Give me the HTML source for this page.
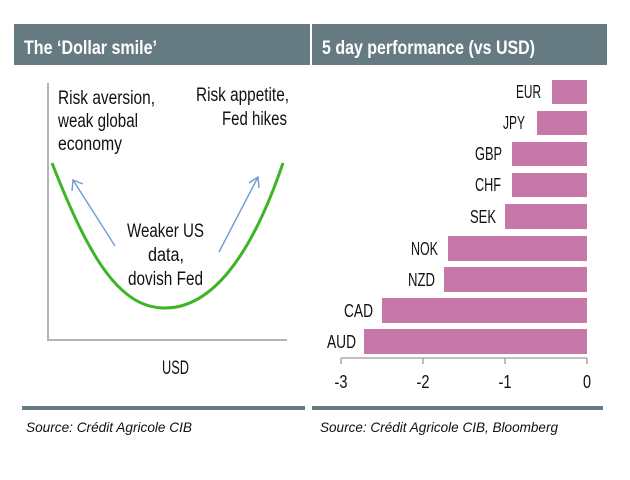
<!DOCTYPE html>
<html><head><meta charset="utf-8"><style>
html,body{margin:0;padding:0;background:#fff;}
svg{display:block;}
text{font-family:"Liberation Sans",sans-serif;}
</style></head><body>
<svg width="630" height="480" viewBox="0 0 630 480" xmlns="http://www.w3.org/2000/svg">
<rect x="0" y="0" width="630" height="480" fill="#fff"/>
<!-- headers -->
<rect x="14" y="24" width="296" height="41" fill="#657b81"/>
<rect x="312" y="24" width="295" height="41" fill="#657b81"/>
<text x="24" y="54" font-size="19" font-weight="bold" fill="#fff" textLength="133" lengthAdjust="spacingAndGlyphs">The ‘Dollar smile’</text>
<text x="322" y="54" font-size="19" font-weight="bold" fill="#fff" textLength="213" lengthAdjust="spacingAndGlyphs">5 day performance (vs USD)</text>

<!-- left chart axes -->
<line x1="48" y1="83" x2="48" y2="340" stroke="#b4b4b4" stroke-width="2"/>
<line x1="47" y1="340" x2="287" y2="340" stroke="#b4b4b4" stroke-width="2"/>

<!-- curve -->
<path d="M52,163 C90,260 120,308 165,308 C210,308 250,260 283,163" fill="none" stroke="#3db526" stroke-width="3"/>

<!-- arrows -->
<g stroke="#6f9bd3" stroke-width="1.4" fill="none">
<line x1="115" y1="246" x2="73" y2="180"/>
<polyline points="72,191 73,180 83,184"/>
<line x1="219" y1="252" x2="258" y2="177"/>
<polyline points="249,183 258,177 259,188"/>
</g>

<!-- left texts -->
<g font-size="19" fill="#111">
<text x="58" y="104" textLength="97" lengthAdjust="spacingAndGlyphs">Risk aversion,</text>
<text x="58" y="127" textLength="80" lengthAdjust="spacingAndGlyphs">weak global</text>
<text x="58" y="150" textLength="64" lengthAdjust="spacingAndGlyphs">economy</text>
<text x="196" y="101" textLength="93" lengthAdjust="spacingAndGlyphs">Risk appetite,</text>
<text x="222" y="125" textLength="65" lengthAdjust="spacingAndGlyphs">Fed hikes</text>
<text x="127" y="237" textLength="77" lengthAdjust="spacingAndGlyphs">Weaker US</text>
<text x="148" y="261" textLength="36" lengthAdjust="spacingAndGlyphs">data,</text>
<text x="128" y="285" textLength="75" lengthAdjust="spacingAndGlyphs">dovish Fed</text>
<text x="162" y="374" textLength="27" lengthAdjust="spacingAndGlyphs">USD</text>
</g>

<!-- bars -->
<g fill="#c679a9">
<rect x="552" y="80" width="35" height="24"/>
<rect x="537" y="111" width="50" height="24"/>
<rect x="512" y="142" width="75" height="24"/>
<rect x="512" y="173" width="75" height="24"/>
<rect x="505" y="204" width="82" height="25"/>
<rect x="448" y="236" width="139" height="25"/>
<rect x="444" y="267" width="143" height="25"/>
<rect x="382" y="298" width="205" height="25"/>
<rect x="364" y="329" width="223" height="25"/>
</g>
<g font-size="18" fill="#111" text-anchor="end">
<text x="541" y="98" textLength="25" lengthAdjust="spacingAndGlyphs">EUR</text>
<text x="525" y="129" textLength="22" lengthAdjust="spacingAndGlyphs">JPY</text>
<text x="502" y="160" textLength="27" lengthAdjust="spacingAndGlyphs">GBP</text>
<text x="501" y="191" textLength="26" lengthAdjust="spacingAndGlyphs">CHF</text>
<text x="496" y="223" textLength="26" lengthAdjust="spacingAndGlyphs">SEK</text>
<text x="438" y="255" textLength="27" lengthAdjust="spacingAndGlyphs">NOK</text>
<text x="435" y="286" textLength="27" lengthAdjust="spacingAndGlyphs">NZD</text>
<text x="373" y="317" textLength="29" lengthAdjust="spacingAndGlyphs">CAD</text>
<text x="356" y="348" textLength="29" lengthAdjust="spacingAndGlyphs">AUD</text>
</g>

<!-- right axis -->
<g stroke="#9a9a9a" stroke-width="1.3">
<line x1="341" y1="358" x2="587" y2="358"/>
<line x1="341" y1="358" x2="341" y2="364"/>
<line x1="423" y1="358" x2="423" y2="364"/>
<line x1="505" y1="358" x2="505" y2="364"/>
<line x1="587" y1="358" x2="587" y2="364"/>
</g>
<g font-size="18" fill="#111" text-anchor="middle">
<text x="341" y="388" textLength="13" lengthAdjust="spacingAndGlyphs">-3</text>
<text x="423" y="388" textLength="13" lengthAdjust="spacingAndGlyphs">-2</text>
<text x="505" y="388" textLength="13" lengthAdjust="spacingAndGlyphs">-1</text>
<text x="587" y="388" textLength="8" lengthAdjust="spacingAndGlyphs">0</text>
</g>

<!-- bottom rules -->
<rect x="22" y="406" width="283" height="4" fill="#657b81"/>
<rect x="312" y="406" width="291" height="4" fill="#657b81"/>
<g font-size="14" font-style="italic" fill="#111">
<text x="26" y="432" textLength="166" lengthAdjust="spacingAndGlyphs">Source: Crédit Agricole CIB</text>
<text x="320" y="432" textLength="238" lengthAdjust="spacingAndGlyphs">Source: Crédit Agricole CIB, Bloomberg</text>
</g>
</svg>
</body></html>
